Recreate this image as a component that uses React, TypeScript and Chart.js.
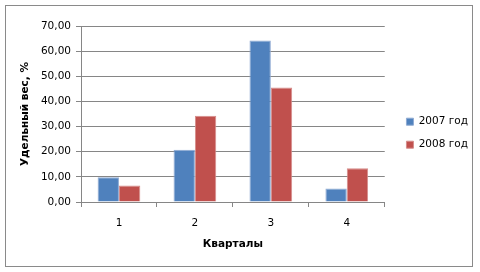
import React, { useEffect, useRef } from "react";
import { Chart, registerables } from "chart.js";

Chart.register(...registerables);

const categories = ["1", "2", "3", "4"];
const seriesLabels = ["2007 год", "2008 год"];
const values2007 = [9.8, 20.8, 64.2, 5.4];
const values2008 = [6.6, 34.3, 45.5, 13.4];
const yMin = 0;
const yMax = 70;
const yStep = 10;
const yTitle = "Удельный вес, %";
const xTitle = "Кварталы";

const FONT = "DejaVu Sans";
const GRID = "#868686";
const LEGEND_SHIFT = 9.2;

const framePlugin = {
  id: "frame",
  beforeDraw(chart: any) {
    const ctx = chart.ctx;
    ctx.save();
    ctx.fillStyle = "#ffffff";
    ctx.fillRect(0, 0, chart.width, chart.height);
    ctx.strokeStyle = "#8a8a8a";
    ctx.lineWidth = 1;
    ctx.strokeRect(5.5, 5.5, 467, 261);
    ctx.restore();
  },
};

// leaves a gap between the plot area and the legend, as in the reference
const legendGapPlugin = {
  id: "legendGap",
  afterLayout(chart: any) {
    const lg = chart.legend;
    if (lg) {
      lg.left += LEGEND_SHIFT;
      lg.right += LEGEND_SHIFT;
    }
  },
};

export default function App() {
  const ref = useRef<HTMLCanvasElement | null>(null);

  useEffect(() => {
    document.body.style.margin = "0";
    if (!ref.current) return;
    const chart = new Chart(ref.current, {
      type: "bar",
      data: {
        labels: categories,
        datasets: [
          {
            label: seriesLabels[0],
            data: values2007,
            backgroundColor: "#4F81BD",
            borderColor: "#8faad3",
            borderWidth: 1,
            categoryPercentage: 0.5625,
            barPercentage: 1,
          },
          {
            label: seriesLabels[1],
            data: values2008,
            backgroundColor: "#C0504D",
            borderColor: "#d68d8b",
            borderWidth: 1,
            categoryPercentage: 0.5625,
            barPercentage: 1,
          },
        ],
      },
      options: {
        responsive: false,
        animation: false,
        devicePixelRatio: 1,
        layout: { padding: { left: 10, right: 11.25, top: 0, bottom: 5.6 } },
        plugins: {
          title: {
            display: true,
            text: "",
            font: { size: 10, family: FONT },
            padding: { top: 14, bottom: 0 },
          },
          legend: {
            display: true,
            position: "right",
            align: "center",
            labels: {
              boxWidth: 7,
              boxHeight: 7,
              padding: 12.5,
              color: "#000",
              font: { family: FONT, size: 10.5 },
            },
          },
          tooltip: { enabled: false },
        },
        scales: {
          x: {
            type: "category",
            grid: {
              display: true,
              drawOnChartArea: false,
              drawTicks: true,
              tickLength: 5,
              color: GRID,
              offset: true,
            },
            border: { display: true, color: GRID },
            ticks: {
              color: "#000",
              padding: 10,
              font: { family: FONT, size: 10.5 },
            },
            title: {
              display: true,
              text: xTitle,
              color: "#000",
              font: { family: FONT, size: 10.5, weight: "bold" },
              padding: { top: 0, bottom: 16 },
            },
            afterFit: (s: any) => {
              s.height = 64.4;
            },
          },
          y: {
            type: "linear",
            min: yMin,
            max: yMax,
            grid: {
              color: GRID,
              drawTicks: true,
              tickLength: 5,
            },
            border: { display: true, color: GRID },
            ticks: {
              stepSize: yStep,
              color: "#000",
              padding: 5,
              font: { family: FONT, size: 10.5 },
              callback: (v: any) => Number(v).toFixed(2).replace(".", ","),
            },
            title: {
              display: true,
              text: yTitle,
              color: "#000",
              font: { family: FONT, size: 10.5, weight: "bold" },
              padding: { top: 9.2, bottom: 0 },
            },
            afterFit: (s: any) => {
              s.width = 71;
            },
          },
        },
      },
      plugins: [framePlugin, legendGapPlugin],
    } as any);
    return () => chart.destroy();
  }, []);

  return (
    <div style={{ width: 480, height: 272 }}>
      <canvas ref={ref} width={480} height={272} style={{ display: "block" }} />
    </div>
  );
}
